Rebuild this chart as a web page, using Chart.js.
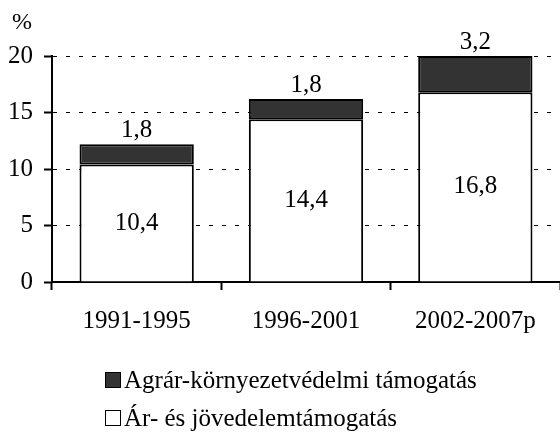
<!DOCTYPE html>
<html>
<head>
<meta charset="utf-8">
<script src="https://cdn.jsdelivr.net/npm/chart.js@4"></script>
<style>
  body { margin: 0; background: #fff; }
  #wrap { position: relative; width: 560px; height: 437px; font-family: "Liberation Serif", Tinos, "Times New Roman", Times, "DejaVu Serif", serif; }
  #unit { position: absolute; left: 12px; top: 8px; font-size: 24px; }
  #legend { position: absolute; left: 105px; top: 361px; font-size: 25px; line-height: 38px; }
  #legend .item { display: flex; align-items: center; }
  #legend .box { width: 14px; height: 14px; border: 1.5px solid #000; margin-right: 3px; }
</style>
</head>
<body>
<div id="wrap">
  <canvas id="chart" width="560" height="437"></canvas>
  <div id="unit">%</div>
  <div id="legend"></div>
</div>
<script>
// --- Data ---
const periods = ["1991-1995", "1996-2001", "2002-2007p"];
const priceSupport = [10.4, 14.4, 16.8];   // Ár- és jövedelemtámogatás
const agriEnvSupport = [1.8, 1.8, 3.2];    // Agrár-környezetvédelmi támogatás
const yTicks = [0, 5, 10, 15, 20];

const FONT = '"Liberation Serif", Tinos, "Times New Roman", Times, "DejaVu Serif", serif';
const fmt = v => v.toFixed(1).replace('.', ',');

const valueLabels = {
  id: 'valueLabels',
  afterDatasetsDraw(chart) {
    const { ctx } = chart;
    ctx.save();
    ctx.font = `25px ${FONT}`;
    ctx.fillStyle = '#000';
    ctx.textAlign = 'center';
    chart.data.datasets.forEach((ds, i) => {
      chart.getDatasetMeta(i).data.forEach((bar, j) => {
        if (i === 0) {
          ctx.textBaseline = 'middle';
          ctx.fillText(fmt(ds.data[j]), bar.x, (bar.y + bar.base) / 2);
        } else {
          ctx.textBaseline = 'bottom';
          ctx.fillText(fmt(ds.data[j]), bar.x, bar.y - 1);
        }
      });
    });
    ctx.restore();
  }
};

const chart = new Chart(document.getElementById("chart").getContext("2d"), {
  type: 'bar',
  data: {
    labels: periods,
    datasets: [
      { label: "Ár- és jövedelemtámogatás", data: priceSupport, backgroundColor: "#ffffff",
        borderColor: "#000", borderWidth: 2, borderSkipped: 'bottom' },
      { label: "Agrár-környezetvédelmi támogatás", data: agriEnvSupport, backgroundColor: "#333333",
        borderColor: "#000", borderWidth: 2, borderSkipped: false }
    ]
  },
  options: {
    responsive: false,
    animation: false,
    layout: { padding: { left: 7, top: 56, right: 0, bottom: 85 } },
    datasets: { bar: { categoryPercentage: 1, barPercentage: 0.675 } },
    plugins: { legend: { display: false }, tooltip: { enabled: false } },
    scales: {
      x: {
        stacked: true,
        grid: { drawOnChartArea: false, color: '#000', tickLength: 8, tickWidth: 2 },
        border: { color: '#000', width: 2 },
        ticks: { color: '#000', font: { family: FONT, size: 25 }, padding: 16 }
      },
      y: {
        stacked: true,
        min: 0, max: 20,
        afterBuildTicks: axis => { axis.ticks = yTicks.map(v => ({ value: v })); },
        afterFit: axis => { axis.width = 45; },
        grid: { color: '#000', lineWidth: 1, tickLength: 8, tickWidth: 2, tickColor: '#000' },
        border: { color: '#000', width: 2, dash: [4, 9] },
        ticks: { color: '#000', font: { family: FONT, size: 25 }, padding: 11 }
      }
    }
  },
  plugins: [valueLabels]
});

// legend, top series first
const legend = document.getElementById("legend");
[1, 0].forEach(i => {
  const ds = chart.data.datasets[i];
  const item = document.createElement("div");
  item.className = "item";
  item.innerHTML = `<span class="box" style="background:${ds.backgroundColor}"></span>${ds.label}`;
  legend.appendChild(item);
});
</script>
</body>
</html>
